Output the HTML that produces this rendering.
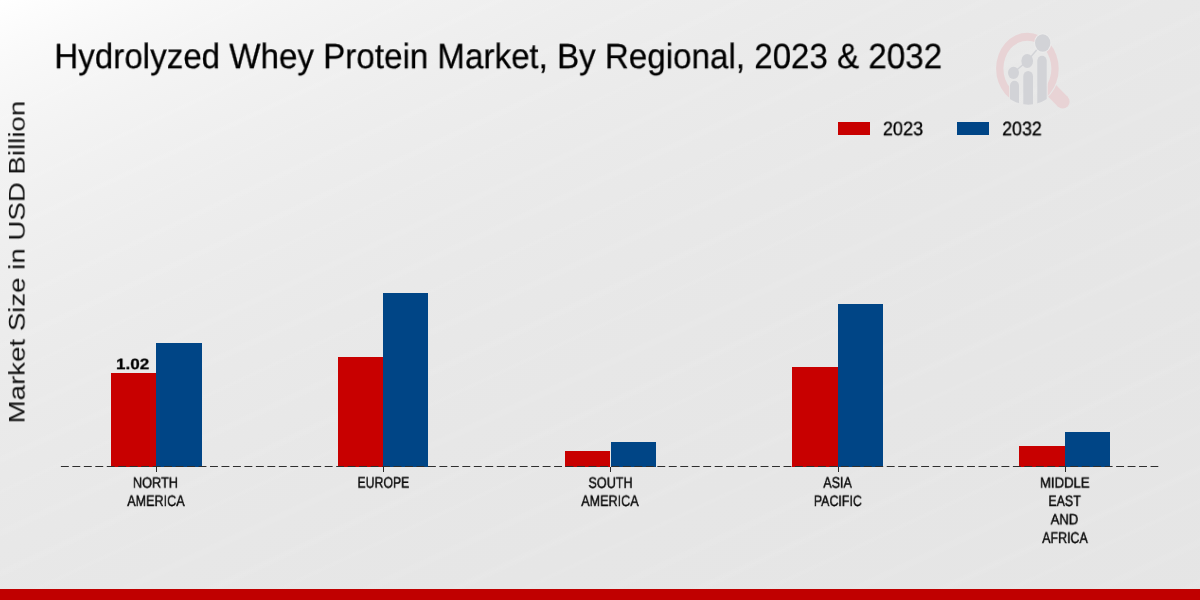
<!DOCTYPE html>
<html lang="en">
<head>
<meta charset="utf-8">
<title>Hydrolyzed Whey Protein Market, By Regional, 2023 &amp; 2032</title>
<style>
html,body{margin:0;padding:0;}
body{width:1200px;height:600px;overflow:hidden;position:relative;
  font-family:"Liberation Sans",sans-serif;color:#111;
  background:#e7e7e7;}
#bg{position:absolute;left:0;top:0;width:1200px;height:600px;background:repeating-linear-gradient(155deg,rgba(255,255,255,0) 0px,rgba(255,255,255,0.07) 5px,rgba(255,255,255,0) 10px,rgba(255,255,255,0) 30px,rgba(255,255,255,0.045) 34px,rgba(255,255,255,0) 38px,rgba(255,255,255,0) 66px,rgba(255,255,255,0.06) 71px,rgba(255,255,255,0) 77px,rgba(255,255,255,0) 103px),linear-gradient(155deg,rgb(255.0,255.0,255.0) 0.00%,rgb(252.8,252.8,252.8) 1.90%,rgb(250.8,250.8,250.8) 3.81%,rgb(249.0,249.0,249.0) 5.71%,rgb(247.2,247.2,247.2) 7.80%,rgb(245.8,245.8,245.8) 9.52%,rgb(244.4,244.4,244.4) 11.42%,rgb(243.1,243.1,243.1) 13.32%,rgb(242.0,242.0,242.0) 15.22%,rgb(240.6,240.6,240.6) 17.60%,rgb(239.4,239.4,239.4) 19.98%,rgb(237.7,237.7,237.7) 23.98%,rgb(236.4,236.4,236.4) 27.59%,rgb(235.1,235.1,235.1) 31.78%,rgb(234.0,234.0,234.0) 36.16%,rgb(233.2,233.2,233.2) 39.96%,rgb(232.1,232.1,232.1) 46.82%,rgb(231.4,231.4,231.4) 51.95%,rgb(230.9,230.9,230.9) 57.09%,rgb(230.2,230.2,230.2) 66.61%,rgb(229.8,229.8,229.8) 76.12%,rgb(229.5,229.5,229.5) 85.64%,rgb(229.3,229.3,229.3) 100.00%);}
.t{will-change:transform;text-rendering:geometricPrecision;left:0;top:0;position:absolute;white-space:nowrap;line-height:1;transform-origin:0 0;margin:0;padding:0;color:#111;}
.bar{position:absolute;}
.r{background:#c80000;}
.b{background:#004586;}
#footer{position:absolute;left:0;top:589px;width:1200px;height:11px;background:#c00000;}
#footline{position:absolute;left:0;top:588px;width:1200px;height:1px;background:#f1f7f7;}
.tick{position:absolute;width:1px;height:4.6px;top:467px;background:#2a2a2a;}
</style>
</head>
<body>
<div id="bg"></div>
<div id="title" class="t" style="font-size:35.00px;transform:translate(54.31px,39.16px) scale(0.9468,1.0057);color:#000;-webkit-text-stroke:0.25px currentColor;">Hydrolyzed Whey Protein Market, By Regional, 2023 &amp; 2032</div>
<div id="ylab" class="t" style="font-size:24.70px;transform:translate(7.23px,423.39px) rotate(-90deg) scale(1.1196,0.9111);color:#111;">Market Size in USD Billion</div>
<!-- logo -->
<svg style="position:absolute;left:985px;top:25px" width="100" height="90" viewBox="985 25 100 90">
  <defs>
    <clipPath id="outer"><ellipse cx="1028.4" cy="68.6" rx="34" ry="36.1"/></clipPath>
    <clipPath id="notch"><path d="M985 25H1085V115H1047.7V70H1009.2V115H985Z"/></clipPath>
    <clipPath id="outside"><path clip-rule="evenodd" d="M985 25H1085V115H985Z M995.1 68.6a32.3 36.8 0 1 0 64.6 0a32.3 36.8 0 1 0 -64.6 0Z"/></clipPath>
  </defs>
  <g clip-path="url(#outside)">
    <line x1="1044" y1="82.7" x2="1062.7" y2="101.7" stroke="#e8d3d5" stroke-width="13.8"/>
    <circle cx="1062.7" cy="101.7" r="6.9" fill="#e8d3d5"/>
  </g>
  <path clip-path="url(#notch)" fill="#e8d3d5" fill-rule="evenodd"
    d="M996.1 68.6a31.3 35.8 0 1 0 62.6 0a31.3 35.8 0 1 0 -62.6 0Z M1003.4 68.6a24 27.9 0 1 0 48 0a24 27.9 0 1 0 -48 0Z"/>
  <g clip-path="url(#outer)" fill="#d2d3d7">
    <rect x="1010" y="80.8" width="9" height="40" rx="4.5" ry="4.9"/>
    <rect x="1023.3" y="71" width="9.7" height="45" rx="4.85" ry="5.3"/>
    <rect x="1037.3" y="55.7" width="9.4" height="60" rx="4.7" ry="5.1"/>
  </g>
  <polyline points="1013.5,72.85 1027.2,61 1042.7,43" fill="none" stroke="#d2d3d7" stroke-width="1.4"/>
  <ellipse cx="1013.5" cy="72.85" rx="5.5" ry="6.15" fill="#d2d3d7"/>
  <ellipse cx="1027.2" cy="61" rx="5.85" ry="7" fill="#d2d3d7"/>
  <ellipse cx="1042.7" cy="43" rx="8.6" ry="9.75" fill="#ececec"/>
  <ellipse cx="1042.7" cy="43" rx="7.67" ry="8.83" fill="#d2d3d7"/>
</svg>

<!-- legend -->
<div class="bar r" style="left:837.9px;top:122.25px;width:31.9px;height:12.4px"></div>
<div id="lg1" class="t" style="font-size:19.50px;transform:translate(882.89px,120.26px) scale(0.9281,0.9966);color:#000;-webkit-text-stroke:0.30px currentColor;">2023</div>
<div class="bar b" style="left:957.1px;top:122.25px;width:31.8px;height:12.4px"></div>
<div id="lg2" class="t" style="font-size:19.50px;transform:translate(1002.22px,120.28px) scale(0.9121,1.0031);color:#000;-webkit-text-stroke:0.30px currentColor;">2032</div>
<!-- bars -->
<div class="bar r" style="left:110.5px;top:373.3px;width:45.4px;height:93.7px"></div>
<div class="bar b" style="left:155.9px;top:342.5px;width:46.0px;height:124.5px"></div>
<div class="bar r" style="left:338.0px;top:357.0px;width:45.2px;height:110.0px"></div>
<div class="bar b" style="left:383.1px;top:292.7px;width:45.2px;height:174.3px"></div>
<div class="bar r" style="left:565.2px;top:451.2px;width:45.3px;height:15.8px"></div>
<div class="bar b" style="left:610.5px;top:442.3px;width:45.3px;height:24.7px"></div>
<div class="bar r" style="left:792.0px;top:367.0px;width:46.0px;height:100.0px"></div>
<div class="bar b" style="left:838.0px;top:303.7px;width:45.1px;height:163.3px"></div>
<div class="bar r" style="left:1019.2px;top:445.8px;width:46.0px;height:21.2px"></div>
<div class="bar b" style="left:1065.2px;top:432.3px;width:45.3px;height:34.7px"></div>
<div id="val" class="t" style="font-size:16.20px;transform:translate(116.02px,356.98px) scale(1.0499,0.9319);font-weight:bold;color:#000;-webkit-text-stroke:0.30px currentColor;">1.02</div>
<!-- axis -->
<svg style="position:absolute;left:0;top:460px" width="1200" height="14" viewBox="0 460 1200 14">
  <line x1="60.9" y1="466.45" x2="1158.3" y2="466.45" stroke="#2e2e2e" stroke-width="1.1" stroke-dasharray="7.9 3.57"/>
</svg>
<div class="tick" style="left:155.6px"></div>
<div class="tick" style="left:382.8px"></div>
<div class="tick" style="left:610.1px"></div>
<div class="tick" style="left:837.6px"></div>
<div class="tick" style="left:1064.8px"></div>
<!-- tick labels -->
<div id="l1a" class="t" style="font-size:16.20px;transform:translate(132.86px,475.68px) scale(0.7885,0.9215);color:#0a0a0a;-webkit-text-stroke:0.45px currentColor;">NORTH</div>
<div id="l1b" class="t" style="font-size:16.20px;transform:translate(127.24px,493.68px) scale(0.7780,0.9445);color:#0a0a0a;-webkit-text-stroke:0.45px currentColor;">AMERICA</div>
<div id="l2a" class="t" style="font-size:16.20px;transform:translate(357.46px,475.43px) scale(0.7592,0.9389);color:#0a0a0a;-webkit-text-stroke:0.45px currentColor;">EUROPE</div>
<div id="l3a" class="t" style="font-size:16.20px;transform:translate(588.42px,475.68px) scale(0.7792,0.9328);color:#0a0a0a;-webkit-text-stroke:0.45px currentColor;">SOUTH</div>
<div id="l3b" class="t" style="font-size:16.20px;transform:translate(581.22px,493.69px) scale(0.7787,0.9463);color:#0a0a0a;-webkit-text-stroke:0.45px currentColor;">AMERICA</div>
<div id="l4a" class="t" style="font-size:16.20px;transform:translate(823.28px,475.41px) scale(0.7762,0.9413);color:#0a0a0a;-webkit-text-stroke:0.45px currentColor;">ASIA</div>
<div id="l4b" class="t" style="font-size:16.20px;transform:translate(813.85px,493.80px) scale(0.7655,0.9353);color:#0a0a0a;-webkit-text-stroke:0.45px currentColor;">PACIFIC</div>
<div id="l5a" class="t" style="font-size:16.20px;transform:translate(1039.94px,475.81px) scale(0.8129,0.9084);color:#0a0a0a;-webkit-text-stroke:0.45px currentColor;">MIDDLE</div>
<div id="l5b" class="t" style="font-size:16.20px;transform:translate(1048.42px,493.87px) scale(0.7653,0.9308);color:#0a0a0a;-webkit-text-stroke:0.45px currentColor;">EAST</div>
<div id="l5c" class="t" style="font-size:16.20px;transform:translate(1050.63px,512.37px) scale(0.8071,0.9253);color:#0a0a0a;-webkit-text-stroke:0.45px currentColor;">AND</div>
<div id="l5d" class="t" style="font-size:16.20px;transform:translate(1042.17px,530.50px) scale(0.7685,0.9613);color:#0a0a0a;-webkit-text-stroke:0.45px currentColor;">AFRICA</div>
<div id="footer"></div>
</body>
</html>
